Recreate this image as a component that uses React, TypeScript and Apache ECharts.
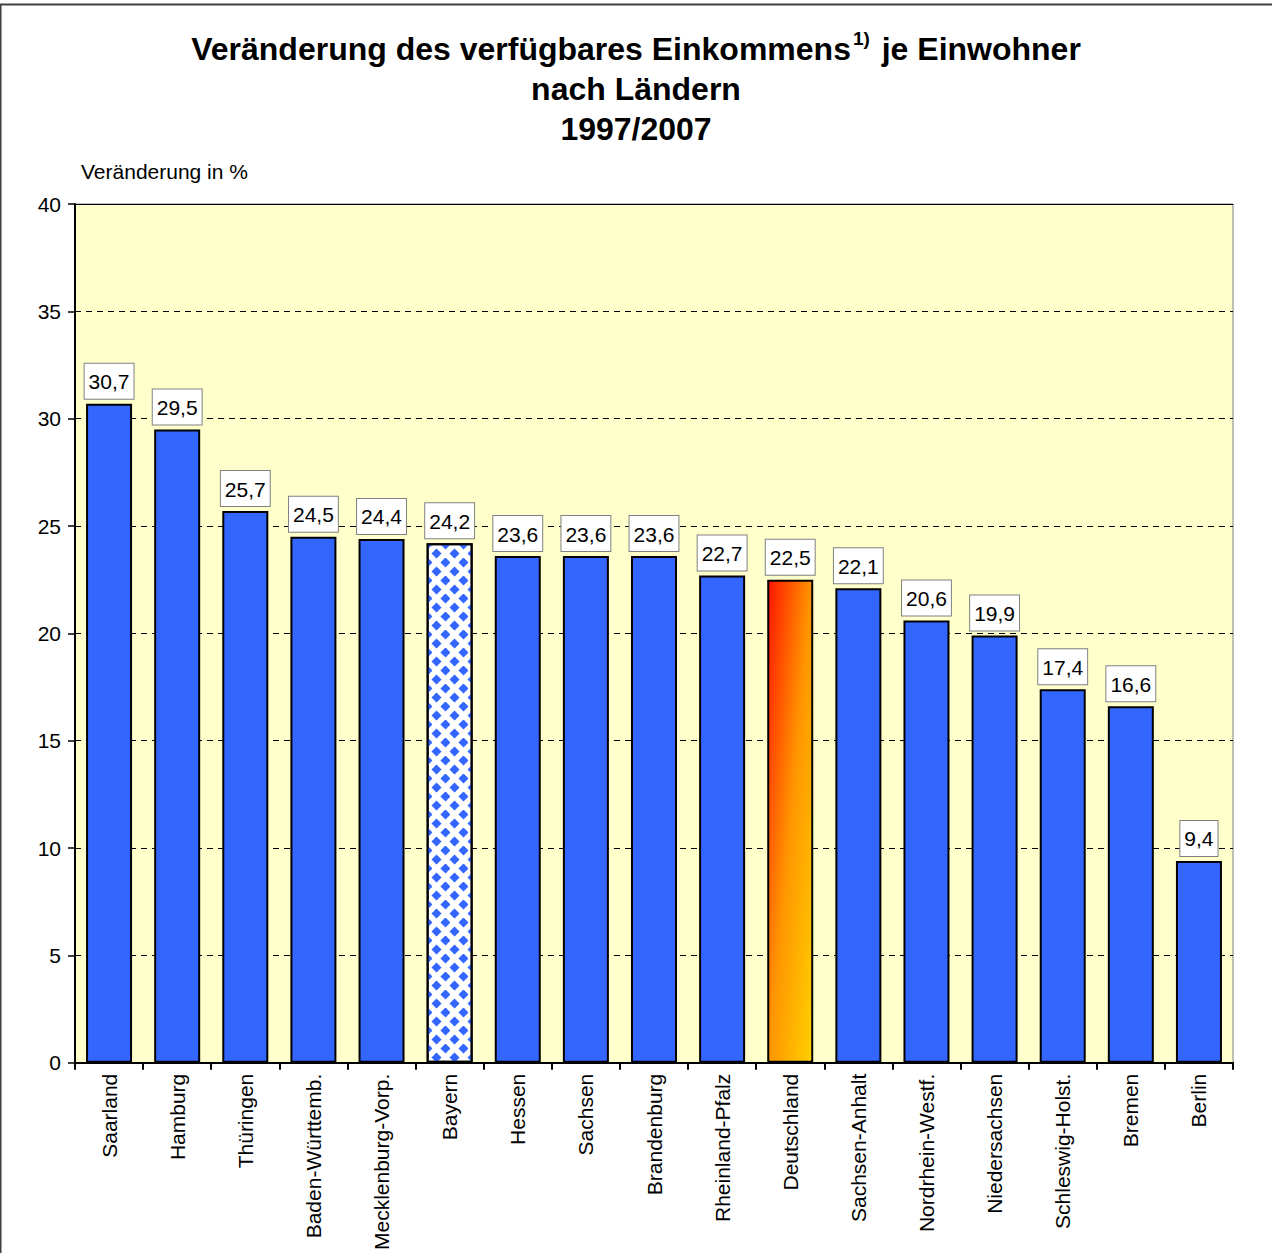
import React, { useEffect, useRef } from "react";
import * as echarts from "echarts";

const categories = [
  "Saarland", "Hamburg", "Thüringen", "Baden-Württemb.", "Mecklenburg-Vorp.",
  "Bayern", "Hessen", "Sachsen", "Brandenburg", "Rheinland-Pfalz",
  "Deutschland", "Sachsen-Anhalt", "Nordrhein-Westf.", "Niedersachsen",
  "Schleswig-Holst.", "Bremen", "Berlin",
];
const values = [30.7, 29.5, 25.7, 24.5, 24.4, 24.2, 23.6, 23.6, 23.6, 22.7, 22.5, 22.1, 20.6, 19.9, 17.4, 16.6, 9.4];
const yTicks = { min: 0, max: 40, interval: 5 };
const titleLines = ["Veränderung des verfügbares Einkommens", "1)", " je Einwohner", "nach Ländern", "1997/2007"];
const yAxisName = "Veränderung in %";

const FONT = "Liberation Sans, Arial, sans-serif";

export default function App() {
  const ref = useRef<HTMLDivElement>(null);
  useEffect(() => {
    if (!ref.current) return;
    const chart = echarts.init(ref.current, null, { renderer: "svg" });
    const blue = "#3366FF";
    const data = values.map((v, i) => {
      const name = categories[i];
      if (name === "Bayern") {
        return {
          value: v,
          itemStyle: {
            color: "#ffffff",
            decal: {
              symbol: "diamond",
              symbolSize: 1.12,
              color: blue,
              backgroundColor: "#ffffff",
              dashArrayX: [[8.5, 8.5], [0, 8.5, 8.5, 0]],
              dashArrayY: [8.5, 0],
              rotation: 0,
            },
          },
        };
      }
      if (name === "Deutschland") {
        return {
          value: v,
          itemStyle: {
            color: new echarts.graphic.LinearGradient(0, 0, 1, 1, [
              { offset: 0, color: "#FF1500" },
              { offset: 0.5, color: "#FF9500" },
              { offset: 1, color: "#FFD000" },
            ]),
          },
        };
      }
      return { value: v };
    });

    chart.setOption({
      animation: false,
      backgroundColor: "#ffffff",
      textStyle: { fontFamily: FONT },
      title: {
        left: "center",
        top: 24,
        text: `{m|${titleLines[0]}}{sup|${titleLines[1]}}{m|${titleLines[2]}}\n{m|${titleLines[3]}}\n{m|${titleLines[4]}}`,
        textStyle: {
          fontFamily: FONT,
          rich: {
            m: { fontSize: 32, fontWeight: "bold", color: "#000", lineHeight: 40, fontFamily: FONT },
            sup: { fontSize: 19, fontWeight: "bold", color: "#000", lineHeight: 40, fontFamily: FONT, verticalAlign: "top", padding: [0, 3, 14, 2] },
          },
        },
      },
      graphic: [
        {
          type: "rect",
          silent: true,
          shape: { x: 0.5, y: 4.5, width: 1300, height: 1300 },
          style: { fill: "none", stroke: "#404040", lineWidth: 2 },
          z: 100,
        },
        {
          type: "text",
          x: 81,
          y: 161,
          style: { text: yAxisName, fontSize: 21, fontFamily: FONT, fill: "#000" },
        },
      ],
      grid: {
        left: 75,
        right: 39,
        top: 204,
        bottom: 190,
        show: true,
        backgroundColor: "#FFFFCC",
        borderColor: "#808080",
        borderWidth: 1,
      },
      xAxis: [
        {
          type: "category",
          data: categories,
          axisLine: { lineStyle: { color: "#000", width: 2 } },
          axisTick: { show: true, length: 7, lineStyle: { color: "#000", width: 2 }, alignWithLabel: false },
          axisLabel: { rotate: 90, fontSize: 21, color: "#000", fontFamily: FONT, margin: 11, interval: 0 },
          splitLine: { show: false },
        },
        {
          type: "category",
          position: "top",
          data: categories,
          axisLine: { show: true, lineStyle: { color: "#000", width: 1 } },
          axisTick: { show: false },
          axisLabel: { show: false },
        },
      ],
      yAxis: {
        type: "value",
        min: yTicks.min,
        max: yTicks.max,
        interval: yTicks.interval,
        axisLine: { show: true, lineStyle: { color: "#000", width: 2 } },
        axisTick: { show: true, length: 7, lineStyle: { color: "#000", width: 1.5 } },
        axisLabel: { fontSize: 21, color: "#000", fontFamily: FONT, margin: 14 },
        splitLine: { show: true, lineStyle: { color: "#000", type: [6, 5], width: 1 } },
      },
      series: [
        {
          type: "bar",
          data,
          barWidth: 46,
          itemStyle: { color: blue, borderColor: "#000", borderWidth: 2 },
          label: {
            show: true,
            position: "top",
            distance: 5,
            fontSize: 21,
            lineHeight: 22,
            fontFamily: FONT,
            color: "#000",
            backgroundColor: "#ffffff",
            borderColor: "#808080",
            borderWidth: 1,
            padding: [7, 4, 6, 4],
            formatter: (p: any) => String(p.value).replace(".", ","),
          },
        },
      ],
    });
    return () => chart.dispose();
  }, []);
  return <div ref={ref} style={{ position: "fixed", left: 0, top: 0, width: 1272, height: 1253 }} />;
}
